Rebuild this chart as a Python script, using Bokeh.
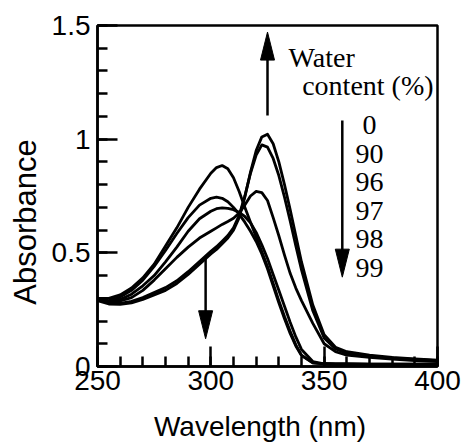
from bokeh.plotting import figure
from bokeh.layouts import column, row
from bokeh.models import (Range1d, Label, Div, SingleIntervalTicker,
                          PrintfTickFormatter, ColumnDataSource)
from bokeh.embed import file_html
from bokeh.resources import INLINE

# ---------------- data ----------------
wavelength = [250, 255, 260, 265, 270, 275, 280, 285, 290, 295, 300,
              302.5, 305, 307.5, 310, 312.5, 315, 317.5, 320, 322.5, 325,
              327.5, 330, 332.5, 335, 337.5, 340, 345, 350, 355, 360,
              370, 380, 390, 400]

water_0 = [0.29, 0.275, 0.273, 0.28, 0.295, 0.315, 0.335, 0.365, 0.405, 0.45, 0.495,
           0.515, 0.54, 0.565, 0.60, 0.655, 0.745, 0.855, 0.95, 1.01, 1.022,
           0.98, 0.90, 0.80, 0.69, 0.575, 0.46, 0.27, 0.14, 0.085, 0.065,
           0.05, 0.04, 0.033, 0.028]

water_90 = [0.295, 0.28, 0.278, 0.287, 0.303, 0.325, 0.347, 0.377, 0.417, 0.462, 0.507,
            0.527, 0.551, 0.576, 0.61, 0.665, 0.75, 0.85, 0.93, 0.975, 0.965,
            0.915, 0.84, 0.745, 0.64, 0.53, 0.425, 0.245, 0.125, 0.077, 0.058,
            0.046, 0.037, 0.031, 0.026]

water_96 = [0.30, 0.285, 0.288, 0.303, 0.335, 0.38, 0.43, 0.48, 0.525, 0.565, 0.595,
            0.61, 0.625, 0.638, 0.652, 0.675, 0.71, 0.75, 0.77, 0.765, 0.73,
            0.655, 0.575, 0.49, 0.41, 0.345, 0.29, 0.19, 0.10, 0.065, 0.05,
            0.04, 0.032, 0.026, 0.022]

water_97 = [0.295, 0.285, 0.295, 0.318, 0.355, 0.40, 0.46, 0.525, 0.595, 0.65, 0.683,
            0.694, 0.698, 0.696, 0.69, 0.678, 0.66, 0.632, 0.59, 0.535, 0.475,
            0.405, 0.335, 0.265, 0.195, 0.13, 0.075, 0.022, 0.012, 0.01, 0.01,
            0.009, 0.009, 0.008, 0.008]

water_98 = [0.295, 0.29, 0.305, 0.335, 0.38, 0.44, 0.51, 0.585, 0.655, 0.71, 0.74,
            0.745, 0.74, 0.725, 0.70, 0.67, 0.635, 0.595, 0.55, 0.495, 0.43,
            0.355, 0.28, 0.21, 0.145, 0.09, 0.048, 0.016, 0.012, 0.011, 0.011,
            0.01, 0.01, 0.01, 0.01]

water_99 = [0.30, 0.30, 0.315, 0.345, 0.39, 0.45, 0.53, 0.61, 0.70, 0.78, 0.85,
            0.875, 0.884, 0.87, 0.83, 0.77, 0.70, 0.635, 0.57, 0.505, 0.44,
            0.365, 0.29, 0.22, 0.155, 0.095, 0.05, 0.016, 0.012, 0.011, 0.011,
            0.01, 0.01, 0.01, 0.01]

series = [water_0, water_90, water_96, water_97, water_98, water_99]
water_labels = ["0", "90", "96", "97", "98", "99"]
x_title = "Wavelength (nm)"
y_title = "Absorbance"

# ---------------- annotation placement (layout, not data) ----------------
x_min, x_max, y_min, y_max = 250, 400, 0, 1.5
frame_w, frame_h = 340, 341
px_per_x = frame_w / (x_max - x_min)
px_per_y = frame_h / (y_max - y_min)

# arrows: (x, y_start, y_tip)
arrows = [(325, 1.104, 1.471), (358, 1.082, 0.393), (297.7, 0.485, 0.122)]
head_len_px, head_half_w_px = 28, 7

SANS = "Liberation Sans"
SERIF = "Liberation Serif"
ytitle_w = 40      # width of the strip holding the y-axis title
xtitle_h = 34      # height of the strip holding the x-axis title

p = figure(width=462 - ytitle_w, height=444 - xtitle_h,
           x_range=Range1d(x_min, x_max), y_range=Range1d(y_min, y_max),
           output_backend="svg", toolbar_location=None,
           min_border_left=97 - ytitle_w, min_border_right=25,
           min_border_top=25, min_border_bottom=44 + 0)
p.background_fill_color = "white"
p.border_fill_color = "white"
p.grid.visible = False
p.outline_line_color = "black"
p.outline_line_width = 2.5
p.outline_line_alpha = 1.0

p.xaxis.ticker = SingleIntervalTicker(interval=50, num_minor_ticks=5)
p.yaxis.ticker = SingleIntervalTicker(interval=0.5, num_minor_ticks=5)
p.yaxis.formatter = PrintfTickFormatter(format="%g")
p.xaxis.formatter = PrintfTickFormatter(format="%g")

for ax in (p.xaxis[0], p.yaxis[0]):
    ax.axis_line_width = 2.5
    ax.axis_line_color = "black"
    ax.major_tick_in = 20
    ax.major_tick_out = 0
    ax.minor_tick_in = 10
    ax.minor_tick_out = 0
    ax.major_tick_line_width = 2.5
    ax.minor_tick_line_width = 2.5
    ax.major_tick_line_color = "black"
    ax.minor_tick_line_color = "black"
    ax.major_label_text_font = SANS
    ax.major_label_text_font_size = "28px"
    ax.major_label_text_color = "black"

p.xaxis.major_label_standoff = 4
p.yaxis.major_label_standoff = 7

# spectra
for ys in series:
    src = ColumnDataSource(dict(x=wavelength, y=ys))
    p.line("x", "y", source=src, line_color="black", line_width=2.8,
           line_join="round", line_cap="round")

# arrows
hx, hy = [], []
for ax_x, y0, y1 in arrows:
    direction = 1 if y1 > y0 else -1
    hl = head_len_px / px_per_y
    hw = head_half_w_px / px_per_x
    base = y1 - direction * hl
    p.segment(x0=[ax_x], y0=[y0], x1=[ax_x], y1=[base + direction * hl * 0.3],
              line_color="black", line_width=2.5)
    hx.append([ax_x - hw, ax_x + hw, ax_x])
    hy.append([base, base, y1])
p.patches(hx, hy, fill_color="black", line_color="black", line_width=1)

# text annotations (vertical centre of the text line)
def lab(x, y, text, align="left"):
    p.add_layout(Label(x=x, y=y, text=text, text_font=SERIF,
                       text_font_size="28px", text_color="black",
                       text_baseline="middle", text_align=align))

lab(334.3, 1.3585, "Water")
lab(340.3, 1.234, "content (%)")
label_top, label_step = 1.061, 0.1253
for i, t in enumerate(water_labels):
    lab(370, label_top - i * label_step, t, align="center")

# axis titles in side strips
ydiv = Div(text=(f'<div style="position:relative;width:{ytitle_w}px;height:{444 - xtitle_h}px">'
                 '<div style="position:absolute;left:25px;top:222px;'
                 'transform:translate(-50%,-50%) rotate(-90deg);white-space:nowrap;'
                 "font-family:'Liberation Sans';font-size:31px;line-height:31px;color:black\">"
                 f'{y_title}</div></div>'),
           width=ytitle_w, height=444 - xtitle_h, margin=0)
xdiv = Div(text=(f'<div style="position:relative;width:462px;height:{xtitle_h}px">'
                 '<div style="position:absolute;left:260px;top:3px;'
                 'transform:translateX(-50%);white-space:nowrap;'
                 "font-family:'Liberation Sans';font-size:28px;line-height:28px;color:black\">"
                 f'{x_title}</div></div>'),
           width=462, height=xtitle_h, margin=0)

layout = column(row(ydiv, p, spacing=0), xdiv, spacing=0)
open("out.html", "w").write(file_html(layout, INLINE))
